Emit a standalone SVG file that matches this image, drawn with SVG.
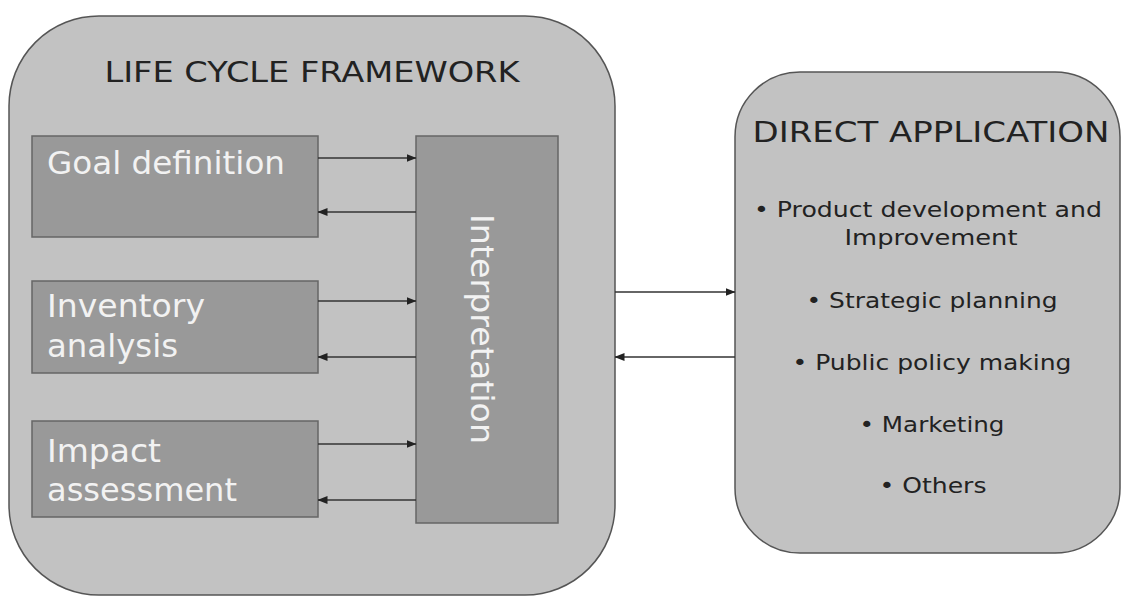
<svg xmlns="http://www.w3.org/2000/svg" width="1122" height="597" viewBox="0 0 1122 597">
<defs>
<marker id="ah" markerWidth="10" markerHeight="9" refX="9.5" refY="4.5" orient="auto" markerUnits="userSpaceOnUse">
<path d="M0,0.5 L10,4.5 L0,8.5 Z" fill="#222"/>
</marker>
<style>
.outer{fill:#c2c2c2;stroke:#555;stroke-width:1.5}
.inner{fill:#999;stroke:#666;stroke-width:1.5}
.wt{fill:#f2f2f2;font-family:"DejaVu Sans",Verdana,sans-serif;font-size:32px}
.title{fill:#222;font-family:"DejaVu Sans",Verdana,sans-serif;font-size:28px}
.li{fill:#222;font-family:"DejaVu Sans",Verdana,sans-serif;font-size:22px;text-anchor:middle}
.cn{stroke:#333;stroke-width:1.5;fill:none;marker-end:url(#ah)}
</style>
</defs>
<rect width="1122" height="597" fill="#ffffff"/>
<g id="framework">
<rect class="outer" x="9" y="16" width="606" height="579" rx="90" ry="90"/>
<text class="title" x="312" y="82" text-anchor="middle" textLength="415" lengthAdjust="spacingAndGlyphs">LIFE CYCLE FRAMEWORK</text>
</g>
<g id="goal">
<rect class="inner" x="32" y="136" width="286" height="101"/>
<text class="wt" x="47" y="174" textLength="238" lengthAdjust="spacingAndGlyphs">Goal definition</text>
</g>
<g id="inventory">
<rect class="inner" x="32" y="281" width="286" height="92"/>
<text class="wt" x="47" y="317" textLength="158" lengthAdjust="spacingAndGlyphs">Inventory</text>
<text class="wt" x="47" y="357" textLength="131" lengthAdjust="spacingAndGlyphs">analysis</text>
</g>
<g id="impact">
<rect class="inner" x="32" y="421" width="286" height="96"/>
<text class="wt" x="47" y="462" textLength="114" lengthAdjust="spacingAndGlyphs">Impact</text>
<text class="wt" x="47" y="501" textLength="190" lengthAdjust="spacingAndGlyphs">assessment</text>
</g>
<g id="interpretation">
<rect class="inner" x="416" y="136" width="142" height="387"/>
<text class="wt" transform="translate(471,329) rotate(90)" text-anchor="middle" textLength="230" lengthAdjust="spacingAndGlyphs">Interpretation</text>
</g>
<g id="direct">
<rect class="outer" x="735" y="72" width="385" height="481" rx="65" ry="65"/>
<text class="title" x="931" y="142" text-anchor="middle" textLength="357" lengthAdjust="spacingAndGlyphs">DIRECT APPLICATION</text>
<text class="li" x="928" y="217" textLength="348" lengthAdjust="spacingAndGlyphs">• Product development and</text>
<text class="li" x="931" y="245" textLength="173" lengthAdjust="spacingAndGlyphs">Improvement</text>
<text class="li" x="932" y="308" textLength="251" lengthAdjust="spacingAndGlyphs">• Strategic planning</text>
<text class="li" x="932" y="370" textLength="279" lengthAdjust="spacingAndGlyphs">• Public policy making</text>
<text class="li" x="932" y="432" textLength="145" lengthAdjust="spacingAndGlyphs">• Marketing</text>
<text class="li" x="933" y="493" textLength="107" lengthAdjust="spacingAndGlyphs">• Others</text>
</g>
<g id="connectors">
<line class="cn" x1="318" y1="158" x2="416" y2="158"/>
<line class="cn" x1="416" y1="212" x2="318" y2="212"/>
<line class="cn" x1="318" y1="301" x2="416" y2="301"/>
<line class="cn" x1="416" y1="357" x2="318" y2="357"/>
<line class="cn" x1="318" y1="444" x2="416" y2="444"/>
<line class="cn" x1="416" y1="500" x2="318" y2="500"/>
<line class="cn" x1="615" y1="292" x2="735" y2="292"/>
<line class="cn" x1="735" y1="357" x2="615" y2="357"/>
</g>
</svg>
